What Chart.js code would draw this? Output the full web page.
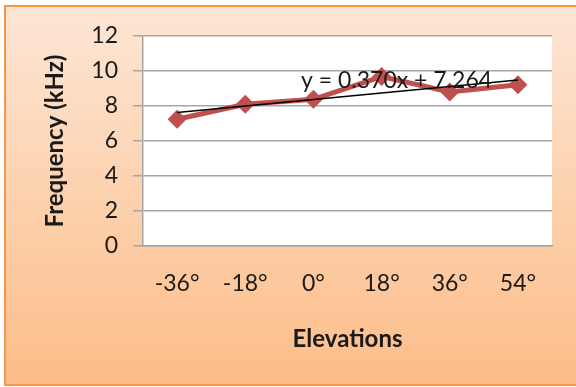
<!DOCTYPE html>
<html>
<head>
<meta charset="utf-8">
<script src="https://cdn.jsdelivr.net/npm/chart.js@4"></script>
<style>
  html, body { margin: 0; padding: 0; background: #ffffff; overflow: hidden; }
  #wrap { position: relative; width: 576px; height: 387px; overflow: hidden; }
  #frame { position: absolute; left: 4px; top: 5px; width: 580px; height: 377px;
           border: 2px solid #f79646; background: linear-gradient(#fde6d5, #fcbd88); }
  #c { position: absolute; left: 0; top: 0; }
</style>
</head>
<body>
<div id="wrap">
  <div id="frame"></div>
  <canvas id="c" width="576" height="387"></canvas>
</div>
<script>
const categories = ['-36°', '-18°', '0°', '18°', '36°', '54°'];
const frequency = [7.24, 8.1, 8.38, 9.68, 8.8, 9.22];
const trendEnds = [7.634, null, null, null, null, 9.484];
const trendLabel = 'y = 0.370x + 7.264';
const yTicks = [0, 2, 4, 6, 8, 10, 12];

const FONT = 'Lato, "Open Sans", sans-serif';

const plotBg = {
  id: 'plotBg',
  beforeDraw(chart) {
    const {ctx, chartArea: a} = chart;
    ctx.save();
    ctx.fillStyle = '#ffffff';
    ctx.fillRect(a.left, a.top, a.right - a.left, a.bottom - a.top);
    ctx.restore();
  }
};

const trendText = {
  id: 'trendText',
  afterDatasetsDraw(chart) {
    const {ctx, scales} = chart;
    const x = scales.x.getPixelForValue(3.22);
    const y = scales.y.getPixelForValue(9.45);
    ctx.save();
    ctx.font = '23px ' + FONT;
    ctx.fillStyle = '#1a1a1a';
    ctx.textAlign = 'center';
    ctx.textBaseline = 'middle';
    ctx.fillText(trendLabel, x, y);
    ctx.restore();
  }
};

new Chart(document.getElementById('c'), {
  type: 'line',
  data: {
    labels: categories,
    datasets: [
      {
        label: 'Trend',
        data: trendEnds,
        spanGaps: true,
        borderColor: '#000000',
        borderWidth: 1.5,
        pointRadius: 0,
        fill: false,
        order: 0
      },
      {
        label: 'Frequency',
        data: frequency,
        borderColor: '#c0504d',
        backgroundColor: '#c0504d',
        borderWidth: 5,
        pointStyle: 'rectRot',
        pointRadius: 9.5,
        pointBorderWidth: 0,
        pointBackgroundColor: '#c0504d',
        fill: false,
        order: 1
      }
    ]
  },
  options: {
    responsive: false,
    animation: false,
    devicePixelRatio: 1,
    layout: { padding: { left: 0, top: 36, right: 24, bottom: 0 } },
    plugins: { legend: { display: false }, tooltip: { enabled: false } },
    scales: {
      x: {
        offset: true,
        grid: { display: false, drawTicks: false },
        border: { display: true, color: '#a6a6a6', width: 1.5 },
        ticks: { color: '#1a1a1a', font: { family: FONT, size: 23 }, padding: 24, maxRotation: 0 },
        title: { display: true, text: 'Elevations', color: '#1a1a1a',
                 font: { family: FONT, size: 24, weight: 'bold' }, padding: { top: 0, bottom: 33 } },
        afterFit(s) { s.height = 141; }
      },
      y: {
        min: 0, max: 12,
        afterBuildTicks(s) { s.ticks = yTicks.map(v => ({ value: v })); },
        grid: { color: '#a6a6a6', lineWidth: 1.5, tickLength: 10, drawTicks: true },
        border: { display: true, color: '#a6a6a6', width: 1.5 },
        ticks: { color: '#1a1a1a', font: { family: FONT, size: 23 }, padding: 15 },
        title: { display: true, text: 'Frequency (kHz)', color: '#1a1a1a',
                 font: { family: FONT, size: 24, weight: 'bold' }, padding: { top: 41, bottom: 0 } },
        afterFit(s) { s.width = 143; }
      }
    }
  },
  plugins: [plotBg, trendText]
});
</script>
</body>
</html>
